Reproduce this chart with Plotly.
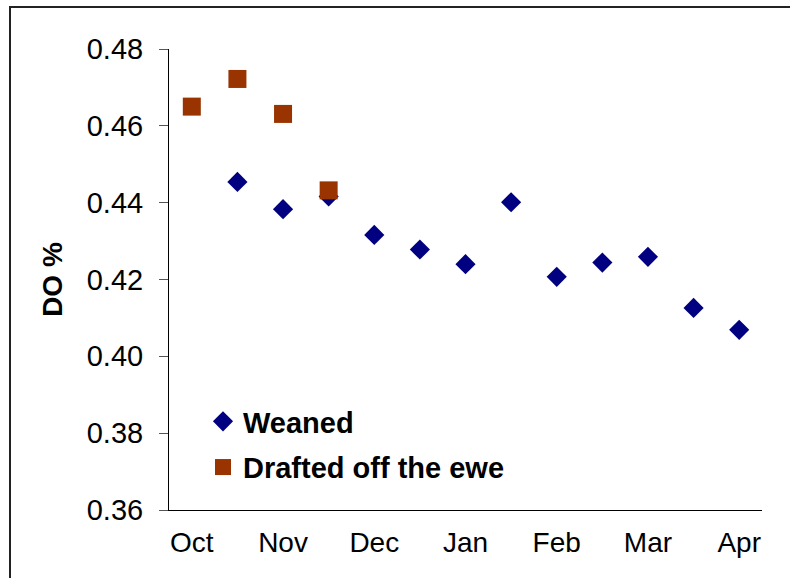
import plotly.graph_objects as go

# Sampling occasions (twice monthly); only month starts are labelled
occasions = ["Oct", "Oct-2", "Nov", "Nov-2", "Dec", "Dec-2", "Jan", "Jan-2",
             "Feb", "Feb-2", "Mar", "Mar-2", "Apr"]
month_labels = ["Oct", "Nov", "Dec", "Jan", "Feb", "Mar", "Apr"]

weaned_x = occasions[1:]
weaned_do = [0.4454, 0.4383, 0.4416, 0.4316, 0.4278, 0.4240, 0.4401,
             0.4207, 0.4244, 0.4259, 0.4126, 0.4069]

drafted_x = occasions[:4]
drafted_do = [0.4650, 0.4722, 0.4631, 0.4432]

y_ticks = [0.36, 0.38, 0.40, 0.42, 0.44, 0.46, 0.48]

FONT = "Liberation Sans, Arial, sans-serif"

fig = go.Figure()
fig.add_trace(go.Scatter(
    x=weaned_x, y=weaned_do, mode="markers", name="Weaned",
    legendgroup="w",
    marker=dict(symbol="diamond", size=15.5, color="#000080", line=dict(width=0)),
))
fig.add_trace(go.Scatter(
    x=drafted_x, y=drafted_do, mode="markers", name="Drafted off the ewe",
    legendgroup="d",
    marker=dict(symbol="square", size=18, color="#993300", line=dict(width=0)),
))

W, H = 790, 578
ml, mr, mt, mb = 169, 28, 49, 68
pw, ph = W - ml - mr, H - mt - mb

# outer chart border (left and top edges visible)
fig.add_shape(type="rect", xref="paper", yref="paper",
              x0=(10 - ml) / pw, x1=(W + 20 - ml) / pw,
              y0=-(H + 20 - mt - ph) / ph, y1=(H - 7 - mb) / ph,
              line=dict(color="#222222", width=2), fillcolor="rgba(0,0,0,0)", layer="below")

fig.update_layout(
    width=W, height=H,
    margin=dict(l=ml, r=mr, t=mt, b=mb),
    paper_bgcolor="white", plot_bgcolor="white",
    font=dict(family=FONT, size=29, color="black"),
    showlegend=True,
    legend=dict(
        x=(203 - ml) / pw, y=(H - mb - 396) / ph, xanchor="left", yanchor="top",
        bgcolor="rgba(0,0,0,0)", borderwidth=0,
        font=dict(family=FONT, size=29, color="black", weight="bold"),
        tracegroupgap=5, itemsizing="trace",
    ),
    xaxis=dict(
        type="category", categoryorder="array", categoryarray=occasions,
        range=[-0.5, 12.5],
        tickvals=month_labels, ticktext=month_labels,
        showline=True, linecolor="black", linewidth=1,
        ticks="", showgrid=False, zeroline=False,
        ticklabelstandoff=7,
        tickfont=dict(family=FONT, size=28, color="black"),
    ),
    yaxis=dict(
        range=[0.36, 0.48], tickvals=y_ticks, tickformat=".2f",
        showline=True, linecolor="black", linewidth=1,
        ticks="outside", ticklen=9, tickcolor="#555555", tickwidth=1,
        showgrid=False, zeroline=False,
        ticklabelstandoff=10,
        tickfont=dict(family=FONT, size=29, color="black"),
        title=dict(text="DO %", standoff=15,
                   font=dict(family=FONT, size=28, color="black", weight="bold")),
    ),
)

fig.write_html("out.html")
